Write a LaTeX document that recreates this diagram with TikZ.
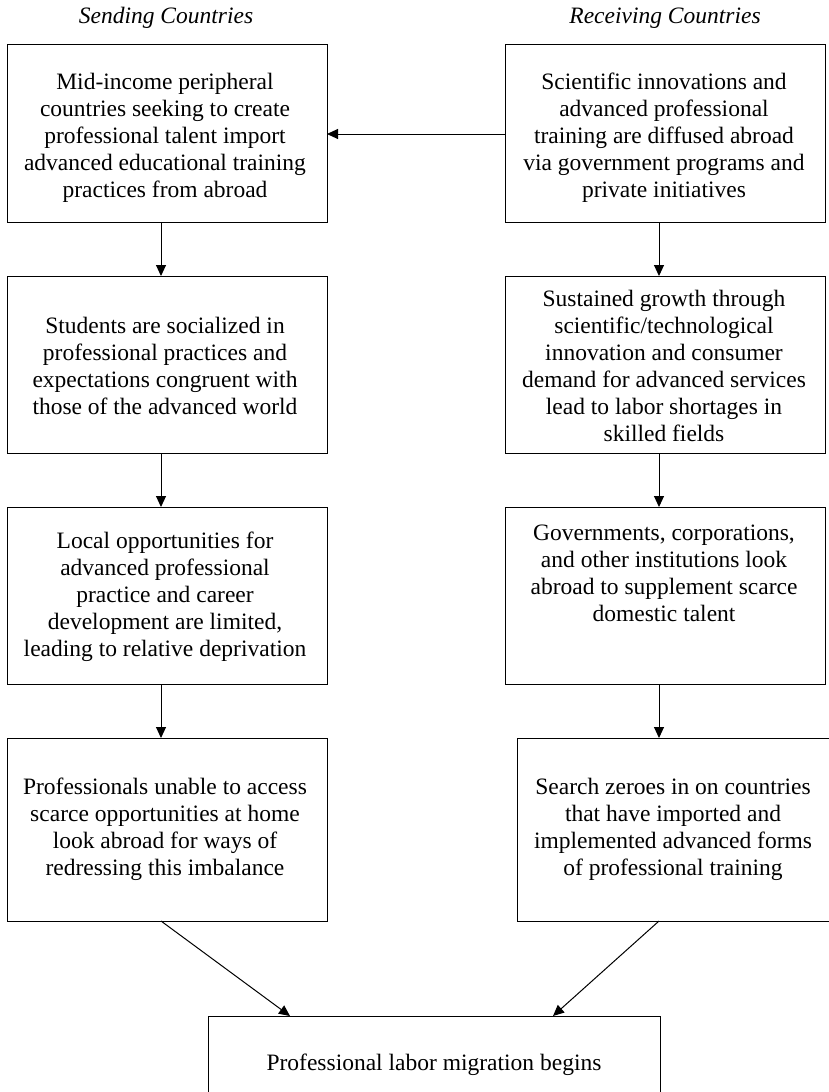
\documentclass[tikz,border=0pt]{standalone}
\usepackage{fontspec}
\setmainfont{Liberation Serif}
\usetikzlibrary{arrows.meta}
\begin{document}
\begin{tikzpicture}[x=1pt,y=-1pt,
  every node/.style={inner sep=0pt,outer sep=0pt,font=\fontsize{23.5}{27}\selectfont},
  box/.style={draw,line width=1pt,minimum width=320pt,anchor=north west},
  txt/.style={align=center},
  arr/.style={line width=1pt,-{Triangle[length=11pt,width=10pt]}},
  hdr/.style={font=\fontsize{23.5}{27}\selectfont\itshape}]
\useasboundingbox (0,0) rectangle (829,1092);
\clip (0,0) rectangle (829,1092);
% headers
\node[hdr] (hs) at (166,18) {Sending Countries};
\node[hdr] (hr) at (665,18) {Receiving Countries};
% left column
\node[box,minimum height=178pt,txt] (l1) at (7,44) {};
\node[txt] (l1t) at (165,138) {Mid-income peripheral\\countries seeking to create\\professional talent import\\advanced educational training\\practices from abroad};
\node[box,minimum height=177pt] (l2) at (7,276) {};
\node[txt] (l2t) at (165,366) {Students are socialized in\\professional practices and\\expectations congruent with\\those of the advanced world};
\node[box,minimum height=177pt] (l3) at (7,507) {};
\node[txt] (l3t) at (165,597) {Local opportunities for\\advanced professional\\practice and career\\development are limited,\\leading to relative deprivation};
\node[box,minimum height=183pt] (l4) at (7,738) {};
\node[txt] (l4t) at (165,829) {Professionals unable to access\\scarce opportunities at home\\look abroad for ways of\\redressing this imbalance};
% right column
\node[box,minimum height=178pt] (r1) at (505,44) {};
\node[txt] (r1t) at (664,138) {Scientific innovations and\\advanced professional\\training are diffused abroad\\via government programs and\\private initiatives};
\node[box,minimum height=177pt] (r2) at (505,276) {};
\node[txt] (r2t) at (664,366) {Sustained growth through\\scientific/technological\\innovation and consumer\\demand for advanced services\\lead to labor shortages in\\skilled fields};
\node[box,minimum height=177pt] (r3) at (505,507) {};
\node[txt] (r3t) at (664,573) {Governments, corporations,\\and other institutions look\\abroad to supplement scarce\\domestic talent};
\node[box,minimum height=183pt,minimum width=340pt] (r4) at (517,738) {};
\node[txt] (r4t) at (673,829) {Search zeroes in on countries\\that have imported and\\implemented advanced forms\\of professional training};
% bottom
\node[draw,line width=1pt,minimum width=452pt,minimum height=110pt,anchor=north west] (bt) at (208,1016) {};
\node (btt) at (434,1065) {Professional labor migration begins};
\coordinate (bl) at ([xshift=82pt]bt.north west);
\coordinate (br) at ([xshift=345pt]bt.north west);
\coordinate (lx) at (161,0);
\coordinate (rx) at (659,0);
% connectors
\draw[arr] (r1.west |- 0,134) -- (l1.east |- 0,134);
\draw[arr] (l1.south -| lx) -- (l2.north -| lx);
\draw[arr] (l2.south -| lx) -- (l3.north -| lx);
\draw[arr] (l3.south -| lx) -- (l4.north -| lx);
\draw[arr] (r1.south -| rx) -- (r2.north -| rx);
\draw[arr] (r2.south -| rx) -- (r3.north -| rx);
\draw[arr] (r3.south -| rx) -- (r4.north -| rx);
\draw[arr] (l4.south -| lx) -- (bl);
\draw[arr] (r4.south -| rx) -- (br);
\end{tikzpicture}
\end{document}
